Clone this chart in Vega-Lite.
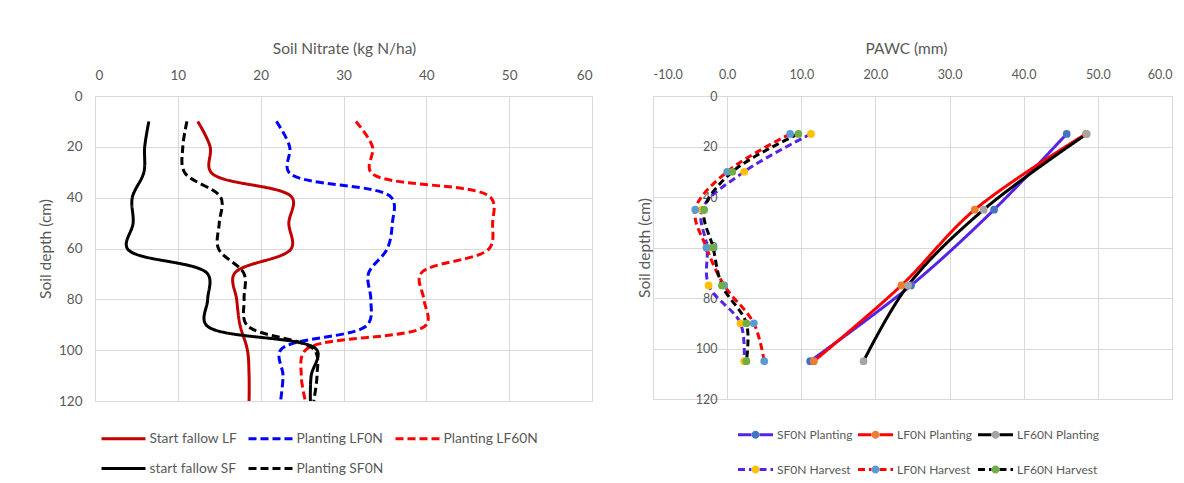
{
  "$schema": "https://vega.github.io/schema/vega-lite/v6.json",
  "autosize": {"type": "none"},
  "padding": {"left": 95, "top": 96, "right": 1089, "bottom": 387},
  "background": "white",
  "bounds": "flush",
  "spacing": 61,
  "config": {
    "font": "Lato",
    "view": {"stroke": "#d9d9d9", "strokeWidth": 1},
    "axis": {
      "domain": false, "ticks": false, "grid": true, "gridColor": "#d9d9d9", "gridWidth": 1,
      "labelFont": "Lato", "titleFont": "Lato", "labelFontSize": 13.5, "titleFontSize": 15.5,
      "labelColor": "#595959", "titleColor": "#595959", "titleFontWeight": "normal"
    },
    "legend": {"labelFont": "Lato", "labelFontSize": 13.8, "labelColor": "#595959", "padding": 0}
  },
  "datasets": {
    "nitrate": [
      {"series": "Start fallow LF", "depth": 10, "nitrate": 12.4},
      {"series": "Start fallow LF", "depth": 20, "nitrate": 13.9},
      {"series": "Start fallow LF", "depth": 30, "nitrate": 14.0},
      {"series": "Start fallow LF", "depth": 40, "nitrate": 23.8},
      {"series": "Start fallow LF", "depth": 50, "nitrate": 23.4},
      {"series": "Start fallow LF", "depth": 60, "nitrate": 23.7},
      {"series": "Start fallow LF", "depth": 70, "nitrate": 16.8},
      {"series": "Start fallow LF", "depth": 80, "nitrate": 17.1},
      {"series": "Start fallow LF", "depth": 90, "nitrate": 17.5},
      {"series": "Start fallow LF", "depth": 100, "nitrate": 18.4},
      {"series": "Start fallow LF", "depth": 110, "nitrate": 18.6},
      {"series": "Start fallow LF", "depth": 120, "nitrate": 18.6},
      {"series": "Planting LF0N", "depth": 10, "nitrate": 21.9},
      {"series": "Planting LF0N", "depth": 20, "nitrate": 23.5},
      {"series": "Planting LF0N", "depth": 30, "nitrate": 23.4},
      {"series": "Planting LF0N", "depth": 40, "nitrate": 35.8},
      {"series": "Planting LF0N", "depth": 50, "nitrate": 35.9},
      {"series": "Planting LF0N", "depth": 60, "nitrate": 35.3},
      {"series": "Planting LF0N", "depth": 70, "nitrate": 33.0},
      {"series": "Planting LF0N", "depth": 80, "nitrate": 33.3},
      {"series": "Planting LF0N", "depth": 90, "nitrate": 32.9},
      {"series": "Planting LF0N", "depth": 100, "nitrate": 22.4},
      {"series": "Planting LF0N", "depth": 110, "nitrate": 22.7},
      {"series": "Planting LF0N", "depth": 120, "nitrate": 22.4},
      {"series": "Planting LF60N", "depth": 10, "nitrate": 31.5},
      {"series": "Planting LF60N", "depth": 20, "nitrate": 33.5},
      {"series": "Planting LF60N", "depth": 30, "nitrate": 33.3},
      {"series": "Planting LF60N", "depth": 40, "nitrate": 47.8},
      {"series": "Planting LF60N", "depth": 50, "nitrate": 48.0},
      {"series": "Planting LF60N", "depth": 60, "nitrate": 47.6},
      {"series": "Planting LF60N", "depth": 70, "nitrate": 39.3},
      {"series": "Planting LF60N", "depth": 80, "nitrate": 39.7},
      {"series": "Planting LF60N", "depth": 90, "nitrate": 40.0},
      {"series": "Planting LF60N", "depth": 100, "nitrate": 25.4},
      {"series": "Planting LF60N", "depth": 110, "nitrate": 24.9},
      {"series": "Planting LF60N", "depth": 120, "nitrate": 25.4},
      {"series": "start fallow SF", "depth": 10, "nitrate": 6.5},
      {"series": "start fallow SF", "depth": 20, "nitrate": 6.0},
      {"series": "start fallow SF", "depth": 30, "nitrate": 5.9},
      {"series": "start fallow SF", "depth": 40, "nitrate": 4.5},
      {"series": "start fallow SF", "depth": 50, "nitrate": 4.6},
      {"series": "start fallow SF", "depth": 60, "nitrate": 3.9},
      {"series": "start fallow SF", "depth": 70, "nitrate": 13.6},
      {"series": "start fallow SF", "depth": 80, "nitrate": 13.6},
      {"series": "start fallow SF", "depth": 90, "nitrate": 13.4},
      {"series": "start fallow SF", "depth": 100, "nitrate": 26.8},
      {"series": "start fallow SF", "depth": 110, "nitrate": 26.1},
      {"series": "start fallow SF", "depth": 120, "nitrate": 26.0},
      {"series": "Planting SF0N", "depth": 10, "nitrate": 11.1},
      {"series": "Planting SF0N", "depth": 20, "nitrate": 10.6},
      {"series": "Planting SF0N", "depth": 30, "nitrate": 10.8},
      {"series": "Planting SF0N", "depth": 40, "nitrate": 15.2},
      {"series": "Planting SF0N", "depth": 50, "nitrate": 15.0},
      {"series": "Planting SF0N", "depth": 60, "nitrate": 14.9},
      {"series": "Planting SF0N", "depth": 70, "nitrate": 18.0},
      {"series": "Planting SF0N", "depth": 80, "nitrate": 18.0},
      {"series": "Planting SF0N", "depth": 90, "nitrate": 18.3},
      {"series": "Planting SF0N", "depth": 100, "nitrate": 26.5},
      {"series": "Planting SF0N", "depth": 110, "nitrate": 26.8},
      {"series": "Planting SF0N", "depth": 120, "nitrate": 26.4}
    ],
    "pawc": [
      {"series": "SF0N Planting", "depth": 15, "pawc": 45.8},
      {"series": "SF0N Planting", "depth": 45, "pawc": 36.0},
      {"series": "SF0N Planting", "depth": 75, "pawc": 24.8},
      {"series": "SF0N Planting", "depth": 105, "pawc": 11.2},
      {"series": "LF0N Planting", "depth": 15, "pawc": 48.4},
      {"series": "LF0N Planting", "depth": 45, "pawc": 33.4},
      {"series": "LF0N Planting", "depth": 75, "pawc": 23.5},
      {"series": "LF0N Planting", "depth": 105, "pawc": 11.7},
      {"series": "LF60N Planting", "depth": 15, "pawc": 48.5},
      {"series": "LF60N Planting", "depth": 45, "pawc": 34.6},
      {"series": "LF60N Planting", "depth": 75, "pawc": 24.4},
      {"series": "LF60N Planting", "depth": 105, "pawc": 18.4},
      {"series": "SF0N Harvest", "depth": 15, "pawc": 11.3},
      {"series": "SF0N Harvest", "depth": 30, "pawc": 2.3},
      {"series": "SF0N Harvest", "depth": 45, "pawc": -3.4},
      {"series": "SF0N Harvest", "depth": 60, "pawc": -2.7},
      {"series": "SF0N Harvest", "depth": 75, "pawc": -2.5},
      {"series": "SF0N Harvest", "depth": 90, "pawc": 1.8},
      {"series": "SF0N Harvest", "depth": 105, "pawc": 2.3},
      {"series": "LF0N Harvest", "depth": 15, "pawc": 8.5},
      {"series": "LF0N Harvest", "depth": 30, "pawc": 0.0},
      {"series": "LF0N Harvest", "depth": 45, "pawc": -4.3},
      {"series": "LF0N Harvest", "depth": 60, "pawc": -2.8},
      {"series": "LF0N Harvest", "depth": 75, "pawc": -0.4},
      {"series": "LF0N Harvest", "depth": 90, "pawc": 3.6},
      {"series": "LF0N Harvest", "depth": 105, "pawc": 5.0},
      {"series": "LF60N Harvest", "depth": 15, "pawc": 9.6},
      {"series": "LF60N Harvest", "depth": 30, "pawc": 0.7},
      {"series": "LF60N Harvest", "depth": 45, "pawc": -3.1},
      {"series": "LF60N Harvest", "depth": 60, "pawc": -1.9},
      {"series": "LF60N Harvest", "depth": 75, "pawc": -0.7},
      {"series": "LF60N Harvest", "depth": 90, "pawc": 2.6},
      {"series": "LF60N Harvest", "depth": 105, "pawc": 2.6}
    ]
  },
  "resolve": {
    "scale": {"color": "independent", "strokeDash": "independent", "stroke": "independent", "fill": "independent", "x": "independent", "y": "independent"},
    "legend": {"color": "independent", "strokeDash": "independent", "stroke": "independent", "fill": "independent"}
  },
  "hconcat": [
    {
      "width": 497,
      "height": 305,
      "data": {"name": "nitrate"},
      "mark": {"type": "line", "interpolate": "catmull-rom", "strokeWidth": 3},
      "encoding": {
        "x": {
          "field": "nitrate", "type": "quantitative",
          "scale": {"domain": [0, 60], "nice": false, "zero": false},
          "axis": {"orient": "top", "values": [0, 10, 20, 30, 40, 50, 60], "format": "d", "title": "Soil Nitrate (kg N/ha)", "labelPadding": 14, "titleX": 249, "titleY": -48, "titleBaseline": "middle", "titleAlign": "center"}
        },
        "y": {
          "field": "depth", "type": "quantitative",
          "scale": {"domain": [0, 120], "reverse": true, "nice": false, "zero": false},
          "axis": {"values": [0, 20, 40, 60, 80, 100, 120], "title": "Soil depth (cm)", "labelPadding": 13, "titleX": -50, "titleY": 152.5, "titleAngle": -90, "titleBaseline": "middle", "titleAlign": "center"}
        },
        "color": {
          "field": "series", "type": "nominal",
          "scale": {"domain": ["Start fallow LF", "Planting LF0N", "Planting LF60N", "start fallow SF", "Planting SF0N"], "range": ["#C00000", "#0000FF", "#FF0000", "#000000", "#000000"]},
          "legend": {"title": null, "orient": "none", "legendX": 19, "legendY": 333, "direction": "horizontal", "columns": 3, "gridAlign": "all", "columnPadding": -2, "rowPadding": 13, "symbolType": "M-2.75,0H2.75", "symbolSize": 256, "symbolStrokeWidth": 3, "labelOffset": 16.5}
        },
        "strokeDash": {
          "field": "series", "type": "nominal",
          "scale": {"domain": ["Start fallow LF", "Planting LF0N", "Planting LF60N", "start fallow SF", "Planting SF0N"], "range": [[1, 0], [8, 4], [8, 4], [1, 0], [8, 4]]},
          "legend": {"title": null, "orient": "none", "legendX": 19, "legendY": 333, "direction": "horizontal", "columns": 3, "gridAlign": "all", "columnPadding": -2, "rowPadding": 13, "symbolType": "M-2.75,0H2.75", "symbolSize": 256, "symbolStrokeWidth": 3, "labelOffset": 16.5}
        },
        "order": {"field": "depth", "type": "quantitative"}
      }
    },
    {
      "width": 519,
      "height": 303,
      "data": {"name": "pawc"},
      "layer": [
        {
          "mark": {"type": "line", "interpolate": "catmull-rom", "strokeWidth": 3},
          "encoding": {
            "x": {
              "field": "pawc", "type": "quantitative",
              "scale": {"domain": [-10, 60], "nice": false, "zero": false},
              "axis": {"orient": "top", "values": [-10, 0, 10, 20, 30, 40, 50, 60], "labelExpr": "datum.value < 0 ? '-' + format(-datum.value, '.1f') : format(datum.value, '.1f')", "labelFontSize": 12.5, "title": "PAWC (mm)", "labelPadding": 15, "titleX": 253, "titleY": -48, "titleBaseline": "middle", "titleAlign": "center"}
            },
            "y": {
              "field": "depth", "type": "quantitative",
              "scale": {"domain": [0, 120], "reverse": true, "nice": false, "zero": false},
              "axis": {"values": [0, 20, 40, 60, 80, 100, 120], "offset": -74, "labelFontSize": 12.5, "title": "Soil depth (cm)", "labelPadding": 10, "titleX": -83, "titleY": 151.5, "titleAngle": -90, "titleBaseline": "middle", "titleAlign": "center"}
            },
            "stroke": {
              "field": "series", "type": "nominal",
              "scale": {"domain": ["SF0N Planting", "LF0N Planting", "LF60N Planting", "SF0N Harvest", "LF0N Harvest", "LF60N Harvest"], "range": ["#5523E8", "#FF0000", "#000000", "#5523E8", "#FF0000", "#000000"]},
              "legend": {"title": null, "orient": "none", "legendX": 93, "legendY": 329, "direction": "horizontal", "columns": 3, "gridAlign": "each", "columnPadding": -2, "rowPadding": 14, "symbolType": "M-2.19,0H-0.5M0.5,0H2.19M0,-0.5M0,0.5", "symbolSize": 256, "symbolStrokeWidth": 3, "labelOffset": 12, "labelFontSize": 12}
            },
            "strokeDash": {
              "field": "series", "type": "nominal",
              "scale": {"domain": ["SF0N Planting", "LF0N Planting", "LF60N Planting", "SF0N Harvest", "LF0N Harvest", "LF60N Harvest"], "range": [[1, 0], [1, 0], [1, 0], [7, 4], [7, 4], [7, 4]]},
              "legend": {"title": null, "orient": "none", "legendX": 93, "legendY": 329, "direction": "horizontal", "columns": 3, "gridAlign": "each", "columnPadding": -2, "rowPadding": 14, "symbolType": "M-2.19,0H-0.5M0.5,0H2.19M0,-0.5M0,0.5", "symbolSize": 256, "symbolStrokeWidth": 3, "labelOffset": 12, "labelFontSize": 12}
            },
            "order": {"field": "depth", "type": "quantitative"}
          }
        },
        {
          "mark": {"type": "circle", "size": 60, "opacity": 1},
          "encoding": {
            "x": {"field": "pawc", "type": "quantitative"},
            "y": {"field": "depth", "type": "quantitative"},
            "fill": {
              "field": "series", "type": "nominal",
              "sort": ["SF0N Planting", "LF0N Planting", "LF60N Planting", "SF0N Harvest", "LF0N Harvest", "LF60N Harvest"],
              "scale": {"range": ["#4472C4", "#ED7D31", "#A5A5A5", "#FFC000", "#5B9BD5", "#70AD47"]},
              "legend": {"title": null, "orient": "none", "legendX": 93, "legendY": 329, "direction": "horizontal", "columns": 3, "gridAlign": "each", "columnPadding": -2, "rowPadding": 14, "symbolType": "M-2.19,0M2.19,0M0.5,0A0.5,0.5,0,1,1,-0.5,0A0.5,0.5,0,1,1,0.5,0Z", "symbolSize": 256, "symbolStrokeWidth": 3, "symbolStrokeColor": "transparent", "labelOffset": 12, "labelOpacity": 0, "labelFontSize": 12}
            }
          }
        }
      ]
    }
  ]
}
